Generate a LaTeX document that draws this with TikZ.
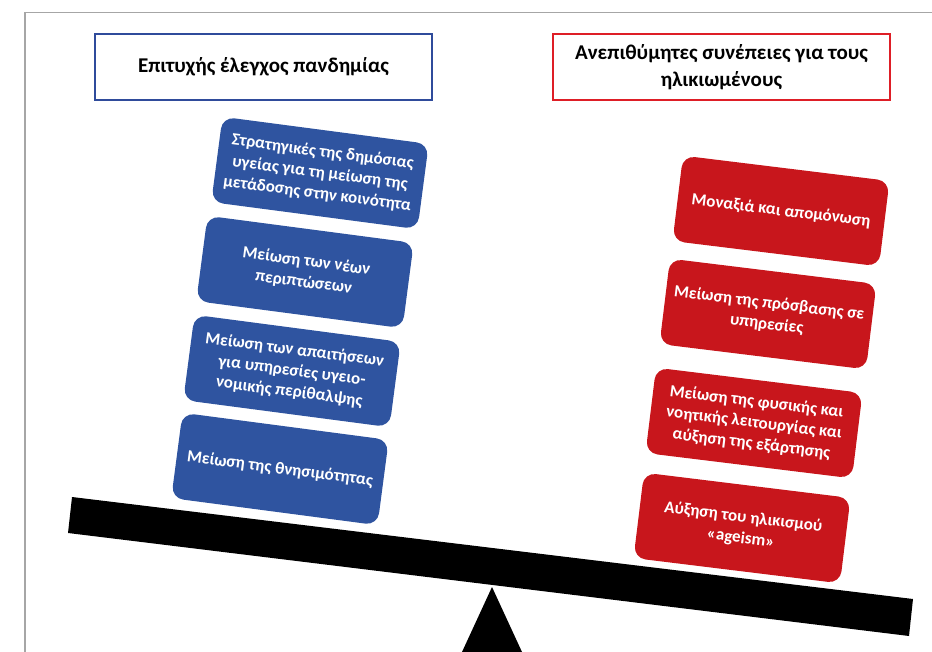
\documentclass[tikz,border=0pt]{standalone}
\usepackage{fontspec}
\setmainfont{Carlito}
\usepackage{tikz}
\definecolor{boxblue}{RGB}{47,84,160}
\definecolor{boxred}{RGB}{200,22,28}
\definecolor{headblue}{RGB}{47,75,155}
\definecolor{headred}{RGB}{222,30,38}
\definecolor{frameg}{RGB}{166,166,166}

\begin{document}
\begin{tikzpicture}[x=1pt, y=-1pt]
   \useasboundingbox (0,0) rectangle (932,652);
   \draw [frameg, line width=1.5pt] (25,652) -- (25,12.5) -- (932,12.5);
   \begin{scope}[every node/.style={draw, line width=2.2pt, fill=white, minimum width=337pt, minimum height=66pt, align=center, font=\fontsize{21}{27}\selectfont\bfseries}]
    \node (hl) [draw=headblue] at (263.5,67) {Επιτυχής έλεγχος πανδημίας};
    \node (hr) [draw=headred] at (721.5,67) {Ανεπιθύμητες συνέπειες για τους\\ηλικιωμένους};
   \end{scope}
   % beam and fulcrum
   \fill (72,497) -- (913,599) -- (909,636) -- (68,533) -- cycle;
   \fill (492,587) -- (522,652) -- (462,652) -- cycle;
   \begin{scope}[every node/.style={rounded corners=12pt, inner sep=3pt, minimum width=208pt, minimum height=86pt, align=center, text=white, font=\fontsize{17}{21}\selectfont\bfseries}]
    \node (b1) [fill=boxblue, rotate=-7.5] at (320,173) {Στρατηγικές της δημόσιας\\υγείας για τη μείωση της\\μετάδοσης στην κοινότητα};
    \node (b2) [fill=boxblue, rotate=-7.5] at (305,272) {Μείωση των νέων\\περιπτώσεων};
    \node (b3) [fill=boxblue, rotate=-7.5] at (292,371) {Μείωση των απαιτήσεων\\για υπηρεσίες υγειο-\\νομικής περίθαλψης};
    \node (b4) [fill=boxblue, rotate=-7.5] at (280,469) {Μείωση της θνησιμότητας};
    \node (r1) [fill=boxred, rotate=-7] at (781,211) {Μοναξιά και απομόνωση};
    \node (r2) [fill=boxred, rotate=-7] at (768,314) {Μείωση της πρόσβασης σε\\υπηρεσίες};
    \node (r3) [fill=boxred, rotate=-7] at (754,423) {Μείωση της φυσικής και\\νοητικής λειτουργίας και\\αύξηση της εξάρτησης};
    \node (r4) [fill=boxred, rotate=-7] at (742,528) {Αύξηση του ηλικισμού\\«ageism»};
   \end{scope}
\end{tikzpicture}
\end{document}
